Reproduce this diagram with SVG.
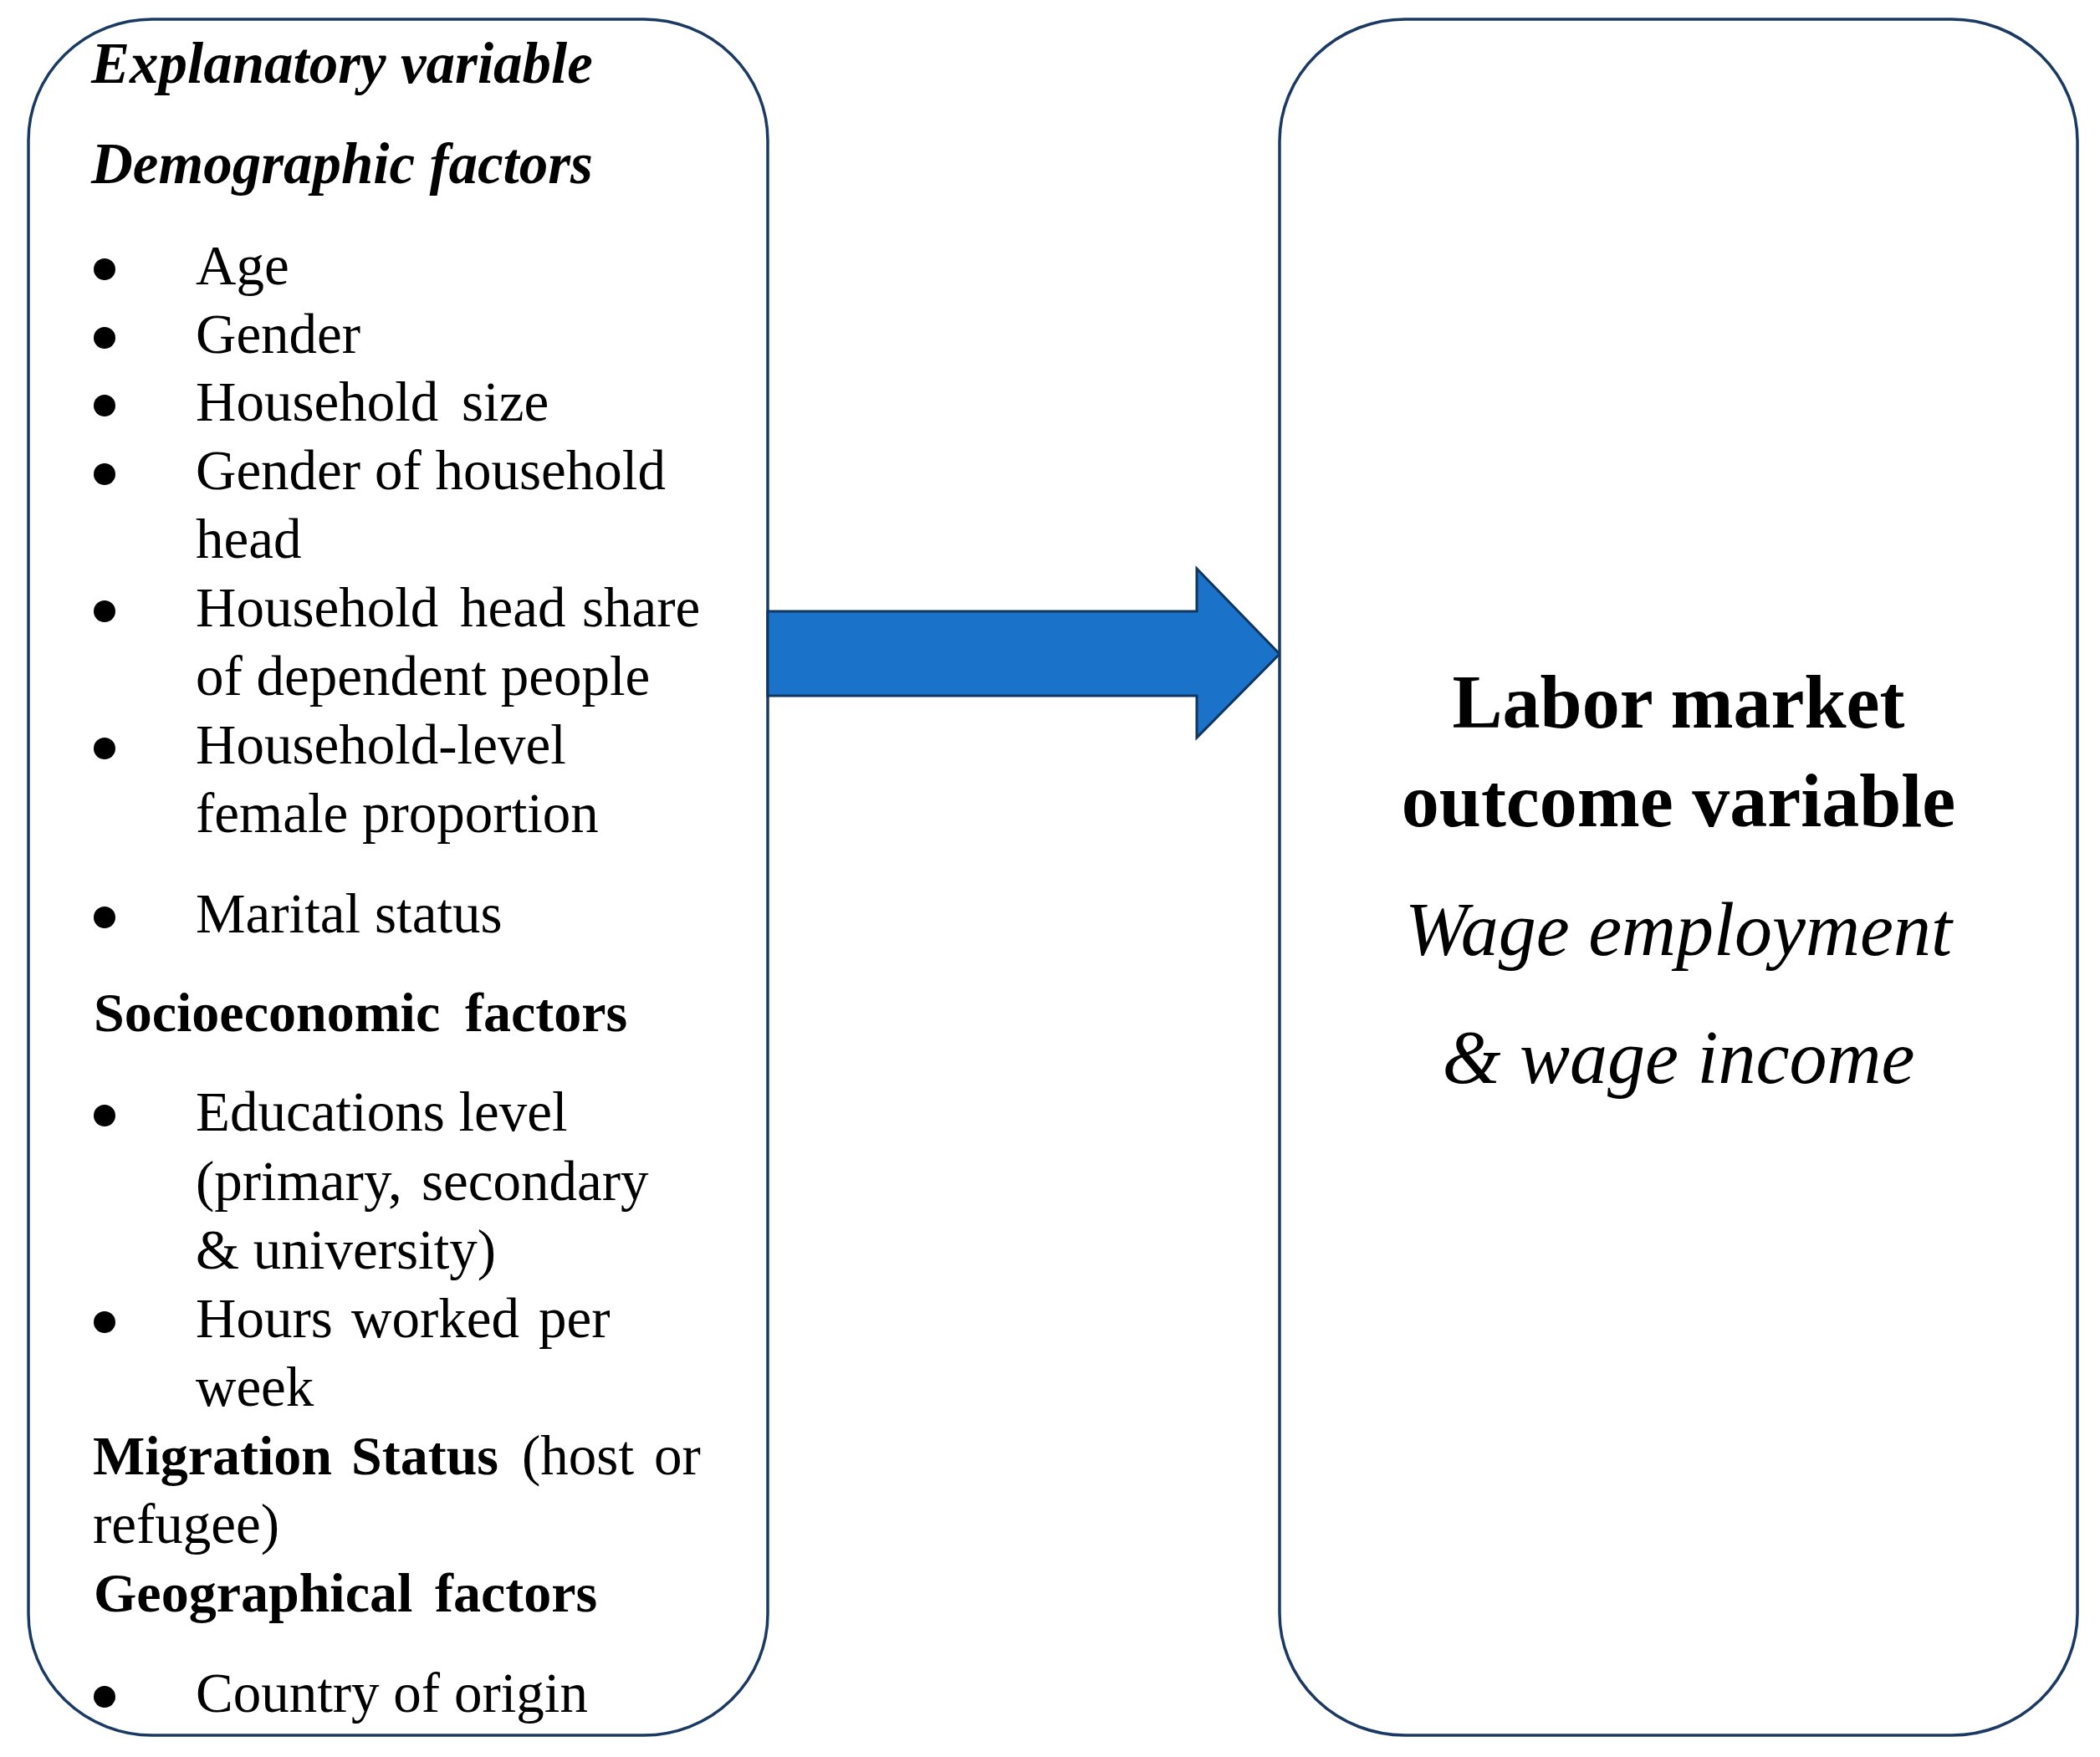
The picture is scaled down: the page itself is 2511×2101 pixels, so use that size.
<svg xmlns="http://www.w3.org/2000/svg" width="2511" height="2101" viewBox="0 0 2511 2101">
<style>
.box{fill:#ffffff;stroke:#1b3a63;stroke-width:3.5}
.t{font-family:"Liberation Serif","Times New Roman",serif;font-size:67px;fill:#000}
.b{font-weight:bold;font-size:66px}
.bi{font-weight:bold;font-style:italic;font-size:69px}
.big{font-family:"Liberation Serif","Times New Roman",serif;font-size:90px;fill:#000;text-anchor:middle}
.dot{fill:#000}
.arrow{fill:#1a73c8;stroke:#0f365f;stroke-width:3;stroke-linejoin:miter}
</style>
<rect width="2511" height="2101" fill="#ffffff"/>
<g id="explanatory">
<rect class="box" x="34" y="23" width="884" height="2052" rx="148" ry="145"/>
<text class="t bi" x="109" y="99">Explanatory variable</text>
<text class="t bi" x="109" y="219">Demographic factors</text>
<g class="dot">
<circle cx="125" cy="322" r="13"/>
<circle cx="125" cy="404" r="13"/>
<circle cx="125" cy="485" r="13"/>
<circle cx="125" cy="567" r="13"/>
<circle cx="125" cy="731" r="13"/>
<circle cx="125" cy="895" r="13"/>
<circle cx="125" cy="1097" r="13"/>
<circle cx="125" cy="1334" r="13"/>
<circle cx="125" cy="1581" r="13"/>
<circle cx="125" cy="2029" r="13"/>
</g>
<text class="t" x="234" y="340">Age</text>
<text class="t" x="234" y="422">Gender</text>
<text class="t" y="503"><tspan x="234">Household</tspan><tspan x="552">size</tspan></text>
<text class="t" x="234" y="585">Gender of household</text>
<text class="t" x="234" y="667">head</text>
<text class="t" y="749"><tspan x="234">Household</tspan><tspan x="550">head</tspan><tspan x="696">share</tspan></text>
<text class="t" x="234" y="831">of dependent people</text>
<text class="t" x="234" y="913">Household-level</text>
<text class="t" x="234" y="995">female proportion</text>
<text class="t" x="234" y="1115">Marital status</text>
<text class="t b" y="1233"><tspan x="112">Socioeconomic</tspan><tspan x="556">factors</tspan></text>
<text class="t" x="234" y="1352">Educations level</text>
<text class="t" y="1435"><tspan x="234">(primary,</tspan><tspan x="504">secondary</tspan></text>
<text class="t" x="234" y="1517">&amp; university)</text>
<text class="t" y="1599"><tspan x="234">Hours</tspan><tspan x="420">worked</tspan><tspan x="644">per</tspan></text>
<text class="t" x="234" y="1681">week</text>
<text class="t" y="1763"><tspan x="111" font-weight="bold" font-size="66">Migration</tspan><tspan x="420" font-weight="bold" font-size="66">Status</tspan><tspan x="624">(host</tspan><tspan x="782">or</tspan></text>
<text class="t" x="111" y="1845">refugee)</text>
<text class="t b" y="1927"><tspan x="112">Geographical</tspan><tspan x="520">factors</tspan></text>
<text class="t" x="234" y="2047">Country of origin</text>
</g>
<g id="connectors">
<polygon class="arrow" points="918,731 1431,731 1431,680 1530,782 1431,882 1431,832 918,832"/>
</g>
<g id="outcome">
<rect class="box" x="1530" y="23" width="954" height="2052" rx="150" ry="146"/>
<text class="big" x="2007" y="870" font-weight="bold">Labor market</text>
<text class="big" x="2007" y="988" font-weight="bold">outcome variable</text>
<text class="big" x="2007" y="1142" font-style="italic">Wage employment</text>
<text class="big" x="2007" y="1295" font-style="italic">&amp; wage income</text>
</g>
</svg>
